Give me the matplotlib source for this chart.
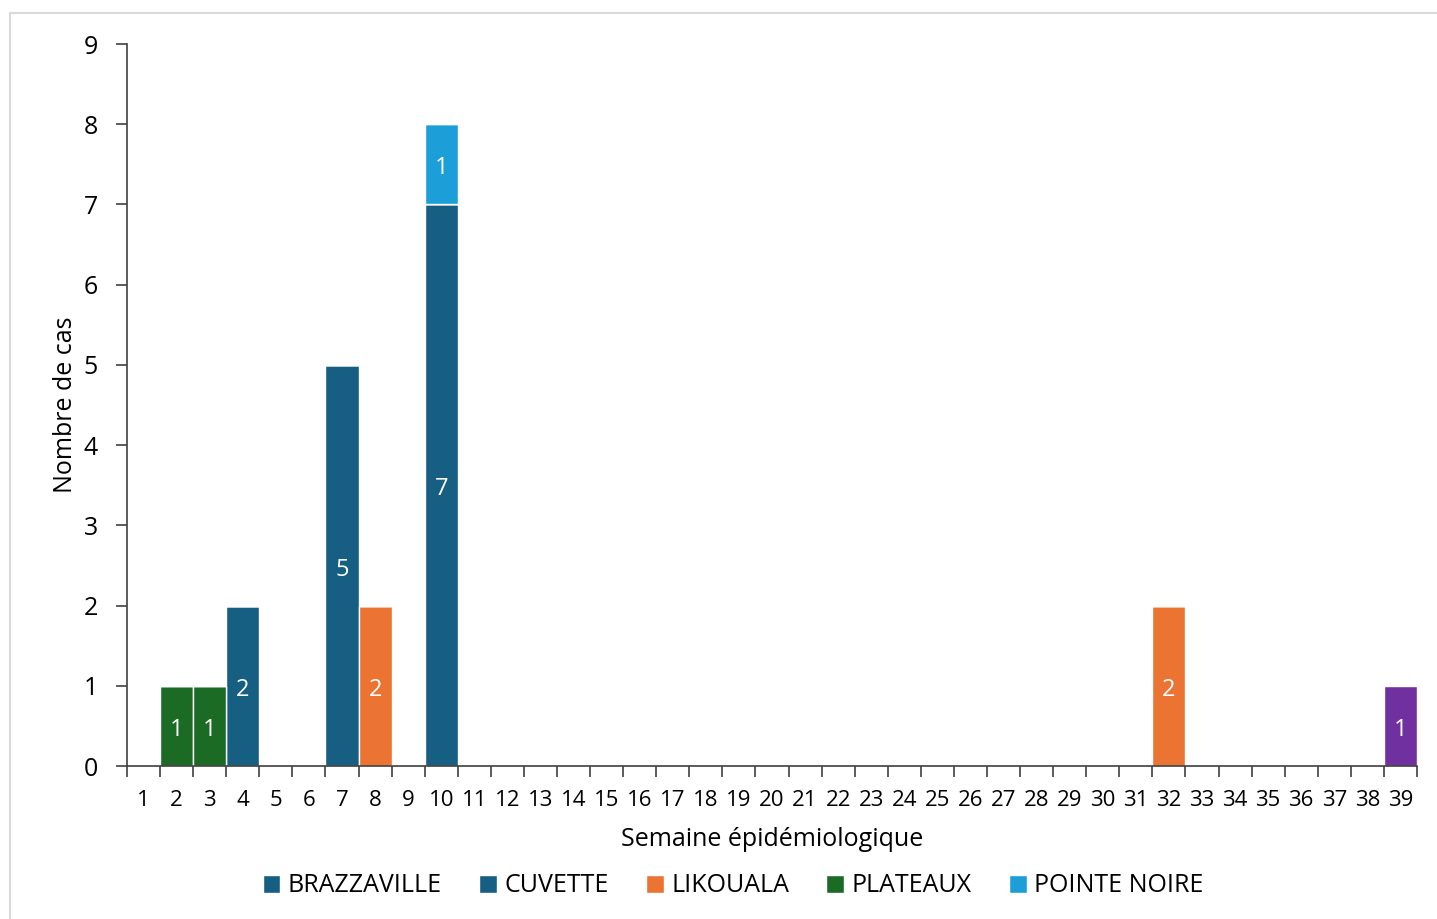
import matplotlib
matplotlib.use("Agg")
import matplotlib.pyplot as plt
from matplotlib.patches import Rectangle
from matplotlib.ticker import FixedLocator, NullFormatter

plt.rcParams["font.family"] = ["Open Sans", "DejaVu Sans"]

weeks = list(range(1, 40))

brazzaville = [0, 0, 0, 2, 0, 0, 5, 0, 0, 7, 0, 0, 0, 0, 0, 0, 0, 0, 0, 0,
               0, 0, 0, 0, 0, 0, 0, 0, 0, 0, 0, 0, 0, 0, 0, 0, 0, 0, 0]
cuvette = [0, 0, 0, 0, 0, 0, 0, 0, 0, 0, 0, 0, 0, 0, 0, 0, 0, 0, 0, 0,
           0, 0, 0, 0, 0, 0, 0, 0, 0, 0, 0, 0, 0, 0, 0, 0, 0, 0, 0]
likouala = [0, 0, 0, 0, 0, 0, 0, 2, 0, 0, 0, 0, 0, 0, 0, 0, 0, 0, 0, 0,
            0, 0, 0, 0, 0, 0, 0, 0, 0, 0, 0, 2, 0, 0, 0, 0, 0, 0, 0]
plateaux = [0, 1, 1, 0, 0, 0, 0, 0, 0, 0, 0, 0, 0, 0, 0, 0, 0, 0, 0, 0,
            0, 0, 0, 0, 0, 0, 0, 0, 0, 0, 0, 0, 0, 0, 0, 0, 0, 0, 0]
pointe_noire = [0, 0, 0, 0, 0, 0, 0, 0, 0, 1, 0, 0, 0, 0, 0, 0, 0, 0, 0, 0,
                0, 0, 0, 0, 0, 0, 0, 0, 0, 0, 0, 0, 0, 0, 0, 0, 0, 0, 0]
other_dept = [0, 0, 0, 0, 0, 0, 0, 0, 0, 0, 0, 0, 0, 0, 0, 0, 0, 0, 0, 0,
              0, 0, 0, 0, 0, 0, 0, 0, 0, 0, 0, 0, 0, 0, 0, 0, 0, 0, 1]

series = [
    ("BRAZZAVILLE", brazzaville, "#175f82"),
    ("CUVETTE", cuvette, "#175f82"),
    ("LIKOUALA", likouala, "#eb7433"),
    ("PLATEAUX", plateaux, "#1c6b25"),
    ("POINTE NOIRE", pointe_noire, "#1c9fd8"),
    ("_other", other_dept, "#7030a0"),
]

fig = plt.figure(figsize=(14.37, 9.19), dpi=100)
# light frame around the chart area
fig.patches.append(Rectangle((10 / 1437, -0.01), 1.02, (919 - 13) / 919 + 0.01,
                             transform=fig.transFigure, fill=False,
                             edgecolor="#d9d9d9", linewidth=1.5))

ax = fig.add_axes([127 / 1437, (919 - 766) / 919, (1417 - 127) / 1437, (766 - 44) / 919])

bottom = [0] * len(weeks)
handles = []
for name, vals, color in series:
    bars = ax.bar(weeks, vals, width=1.0, bottom=bottom, color=color,
                  edgecolor="white", linewidth=1.0, label=name)
    if not name.startswith("_"):
        handles.append(bars)
    for x, v, b in zip(weeks, vals, bottom):
        if v > 0:
            ax.annotate(str(v), (x, b + v / 2), xytext=(0, -3),
                        textcoords="offset points", ha="center", va="center",
                        color="white", fontsize=17)
    bottom = [b + v for b, v in zip(bottom, vals)]

ax.set_xlim(0.5, 39.5)
ax.set_ylim(0, 9)

# tick marks between weeks, labels centred on weeks
ax.xaxis.set_major_locator(FixedLocator([w + 0.5 for w in [0] + weeks]))
ax.xaxis.set_major_formatter(NullFormatter())
ax.xaxis.set_minor_locator(FixedLocator(weeks))
ax.set_xticklabels([str(w) for w in weeks], minor=True)
ax.tick_params(axis="x", which="major", direction="out", length=8, width=1.2,
               color="#404040")
ax.tick_params(axis="x", which="minor", length=0, pad=17, labelsize=16)
ax.set_yticks(range(0, 10))
ax.tick_params(axis="y", direction="out", length=8, width=1.2, color="#404040",
               labelsize=18, pad=13)

for side in ["top", "right"]:
    ax.spines[side].set_visible(False)
for side in ["left", "bottom"]:
    ax.spines[side].set_color("#404040")
    ax.spines[side].set_linewidth(1.2)

ax.set_xlabel("Semaine épidémiologique", fontsize=18, labelpad=12)
ax.set_ylabel("Nombre de cas", fontsize=18, labelpad=4)

fig.legend(handles=handles, loc="center", bbox_to_anchor=(733 / 1437, 1 - 886 / 919),
           ncol=5, frameon=False, fontsize=18, handlelength=0.7, handleheight=0.7,
           handletextpad=0.3, columnspacing=1.5)

fig.savefig("out.png", dpi=100)
